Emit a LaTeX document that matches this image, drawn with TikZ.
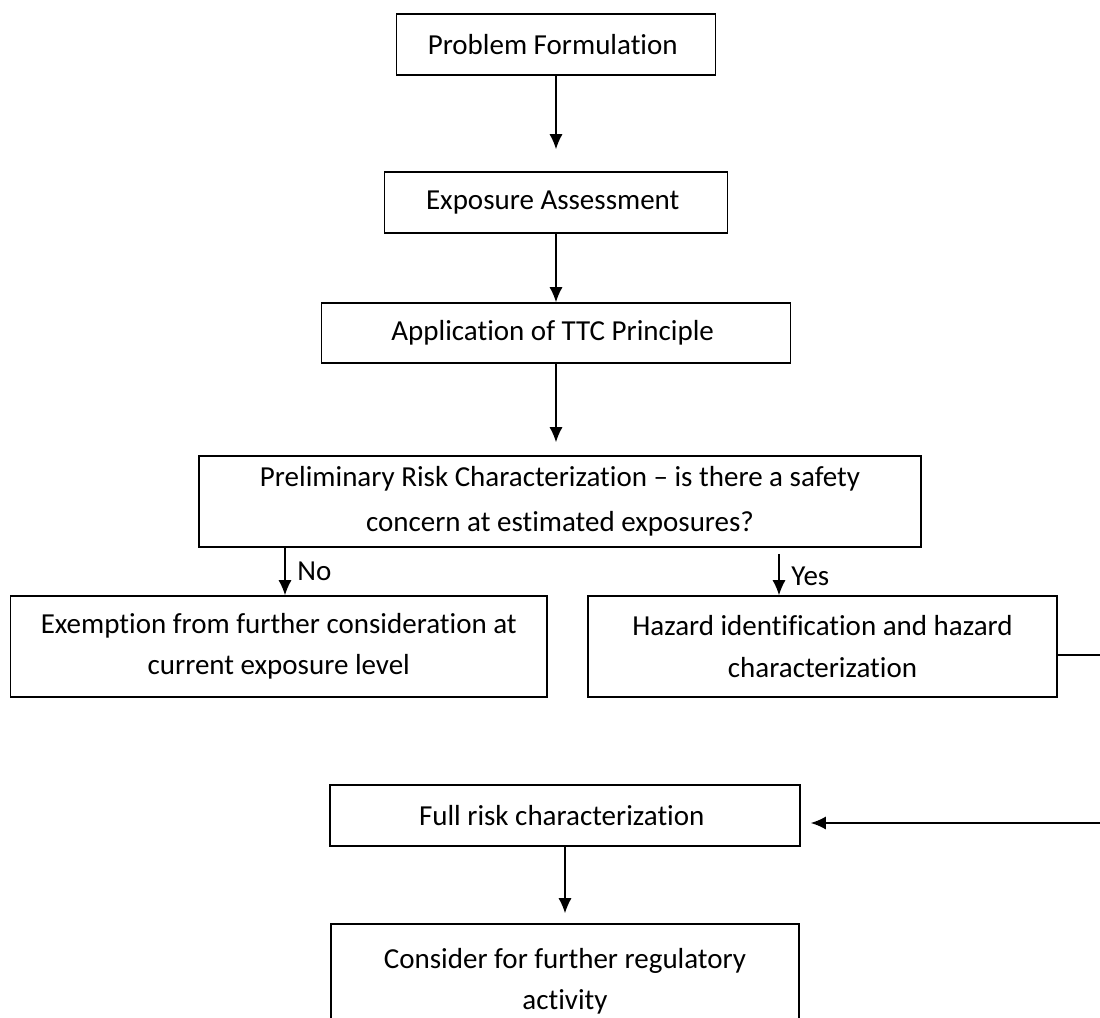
\documentclass[tikz,border=0pt]{standalone}
\usepackage{fontspec}
\setmainfont{Carlito}[Ligatures={TeX,NoCommon}]
\usetikzlibrary{arrows.meta}

\begin{document}
\begin{tikzpicture}[
    stagebox/.style={
        rectangle,
        draw,
        line width=0.9pt,
        inner sep=0pt,
        align=center,
        font=\fontsize{16.5}{23.5}\selectfont
    },
    branchlabel/.style={
        font=\fontsize{16.5}{20}\selectfont
    },
    >={Latex[length=3mm,width=2.6mm]}
]
    \useasboundingbox (0,0) rectangle (22,-20.36);

    \node (problem_formulation) [stagebox, minimum width=6.38cm, minimum height=1.22cm, shift={(11.12, -0.89)}]
    {
        Problem Formulation
    };

    \node (exposure_assessment) [stagebox, minimum width=6.86cm, minimum height=1.22cm, shift={(11.12, -4.05)}]
    {
        Exposure Assessment
    };

    \node (ttc_principle) [stagebox, minimum width=9.38cm, minimum height=1.2cm, shift={(11.12, -6.66)}]
    {
        Application of TTC Principle
    };

    \node (prelim_risk) [stagebox, minimum width=14.44cm, minimum height=1.82cm, shift={(11.2, -10.03)}]
    {
        Preliminary Risk Characterization – is there a safety\\[2pt]
        concern at estimated exposures?
    };

    \node (exemption) [stagebox, minimum width=10.73cm, minimum height=2.02cm, shift={(5.575, -12.93)}]
    {
        Exemption from further consideration at\\
        current exposure level
    };

    \node (hazard_id) [stagebox, minimum width=9.38cm, minimum height=2.02cm, shift={(16.45, -12.93)}]
    {
        Hazard identification and hazard\\
        characterization
    };

    \node (full_risk) [stagebox, minimum width=9.4cm, minimum height=1.22cm, shift={(11.3, -16.31)}]
    {
        Full risk characterization
    };

    \node (consider_activity) [stagebox, minimum width=9.36cm, minimum height=2.3cm, shift={(11.3, -19.63)}]
    {
        Consider for further regulatory\\
        activity
    };

    \coordinate (no_split) at (5.7, 0);
    \coordinate (yes_split) at (15.58, 0);
    \coordinate (right_edge_top) at (22, -13.1);
    \coordinate (right_edge_bottom) at (22, -16.46);


    \draw[->, line width=0.7pt, shorten >=0.44cm] (problem_formulation) to (exposure_assessment);
    \draw[->, line width=0.7pt] (exposure_assessment) to (ttc_principle);
    \draw[->, line width=0.7pt, shorten >=0.26cm] (ttc_principle.south) to (ttc_principle.south |- prelim_risk.north);


    \draw[->, line width=0.7pt] (prelim_risk.south -| no_split) to node[branchlabel, right=0.12cm] (no_label) {No} (exemption.north -| no_split);
    \draw[->, line width=0.7pt, shorten <=0.12cm] (prelim_risk.south -| yes_split) to node[branchlabel, right=0.12cm, yshift=-0.1cm] (yes_label) {Yes} (hazard_id.north -| yes_split);


    \draw[line width=0.9pt] (hazard_id.east |- right_edge_top) to (right_edge_top);
    \draw[->, line width=0.9pt, shorten >=0.2cm] (right_edge_bottom) to (right_edge_bottom -| full_risk.east);
    \draw[->, line width=0.7pt, shorten >=0.2cm] (full_risk) to (consider_activity);
\end{tikzpicture}
\end{document}
